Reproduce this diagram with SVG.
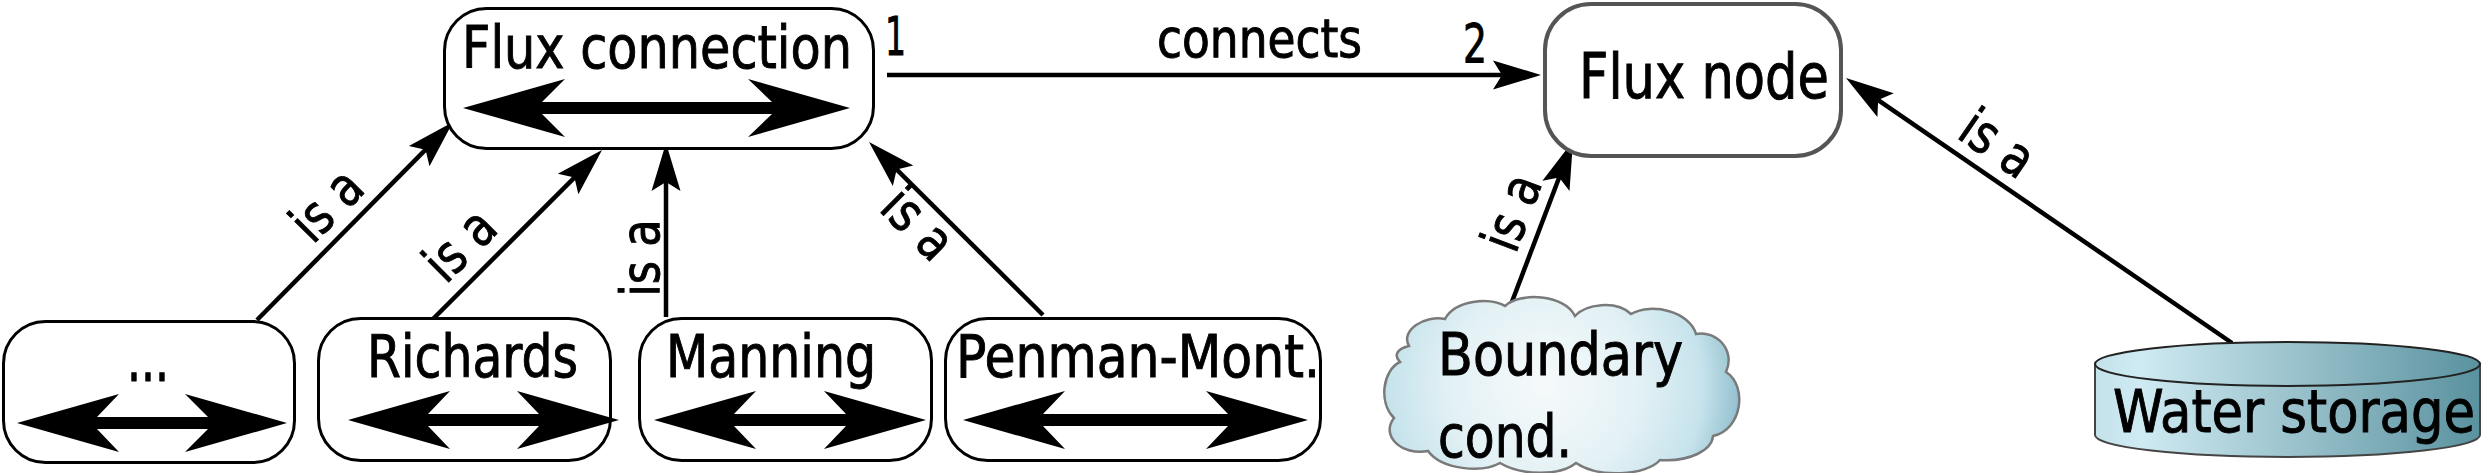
<svg xmlns="http://www.w3.org/2000/svg" width="2482" height="473" viewBox="0 0 2482 473">
<style>
.box{fill:#fff;stroke:#000;stroke-width:3}
.dbl{fill:#000;stroke:none}
.conn{stroke:#000;stroke-width:4.5;fill:none;marker-end:url(#ah)}
.t{font-family:"DejaVu Sans Condensed","DejaVu Sans","Liberation Sans",sans-serif;fill:#000;stroke:#000;stroke-width:0.9px}
.n{font-size:58px}
.lbl{font-size:54px}
</style>
<defs>
<marker id="ah" markerUnits="userSpaceOnUse" markerWidth="80" markerHeight="40" viewBox="-70 -20 80 40" refX="-20" refY="0" orient="auto">
<path d="M0,0 L-48,-14.5 L-39,0 L-48,14.5 Z" fill="#000"/>
</marker>
<radialGradient id="cloudG" cx="1545" cy="385" r="210" gradientUnits="userSpaceOnUse">
<stop offset="0" stop-color="#f6fafb"/>
<stop offset="0.45" stop-color="#e3f1f5"/>
<stop offset="0.75" stop-color="#c6e3ec"/>
<stop offset="1" stop-color="#7eb2c2"/>
</radialGradient>
<linearGradient id="cylG" x1="2095" y1="0" x2="2480" y2="0" gradientUnits="userSpaceOnUse">
<stop offset="0" stop-color="#c4e2ea"/>
<stop offset="0.12" stop-color="#cfeaf2"/>
<stop offset="1" stop-color="#5a929f"/>
</linearGradient>
</defs>

<g id="connectors">
<line class="conn" x1="257" y1="320" x2="438.9" y2="136.2"/>
<line class="conn" x1="432" y1="320" x2="587.9" y2="164.1"/>
<line class="conn" x1="666" y1="317" x2="666" y2="163"/>
<line class="conn" x1="1043" y1="315" x2="883.2" y2="156.1"/>
<line class="conn" x1="887" y1="75" x2="1521" y2="75"/>
<line class="conn" x1="1510" y1="307" x2="1565.9" y2="159.7"/>
<line class="conn" x1="2232" y1="343" x2="1862.5" y2="89.3"/>
<g class="t lbl">
<text transform="translate(330,208) rotate(-45.3)" x="-38.5" y="14" textLength="77" lengthAdjust="spacingAndGlyphs">is a</text>
<text transform="translate(463,248) rotate(-45)" x="-38.5" y="14" textLength="77" lengthAdjust="spacingAndGlyphs">is a</text>
<text transform="translate(645,258) rotate(-90)" x="-38.5" y="14" textLength="77" lengthAdjust="spacingAndGlyphs">is a</text>
<text transform="translate(915,227) rotate(44.8)" x="-38.5" y="14" textLength="77" lengthAdjust="spacingAndGlyphs">is a</text>
<text transform="translate(1516,214) rotate(-69.2)" x="-38.5" y="14" textLength="77" lengthAdjust="spacingAndGlyphs">is a</text>
<text transform="translate(1995,147) rotate(34.5)" x="-38.5" y="14" textLength="77" lengthAdjust="spacingAndGlyphs">is a</text>
</g>
<text class="t" x="1157" y="57" font-size="53" textLength="205" lengthAdjust="spacingAndGlyphs">connects</text>
<text class="t" x="885" y="55" font-size="53" textLength="21" lengthAdjust="spacingAndGlyphs">1</text>
<text class="t" x="1463" y="62" font-size="53" textLength="24" lengthAdjust="spacingAndGlyphs">2</text>
</g>

<g id="flux-connection">
<rect class="box" x="444.5" y="8.5" width="429" height="140" rx="42" ry="42"/>
<path class="dbl" d="M463,108 L565,79 L542,102 L772,102 L748,79 L850,108 L748,137 L772,114 L542,114 L565,137 Z"/>
<text class="t" x="462" y="68" font-size="59" textLength="390" lengthAdjust="spacingAndGlyphs">Flux connection</text>
</g>

<g id="flux-node">
<rect x="1545" y="4" width="296" height="152" rx="46" ry="46" fill="#fff" stroke="#555" stroke-width="4"/>
<text class="t" x="1579" y="98" font-size="62" textLength="250" lengthAdjust="spacingAndGlyphs">Flux node</text>
</g>

<g id="generic">
<rect class="box" x="3.5" y="321.5" width="291" height="141" rx="42" ry="42"/>
<path class="dbl" d="M17,423 L119,394 L97,417 L208,417 L185,394 L287,423 L185,452 L208,429 L97,429 L119,452 Z"/>
<text class="t" x="127" y="381" font-size="66" textLength="42" lengthAdjust="spacingAndGlyphs">...</text>
</g>

<g id="richards">
<rect class="box" x="318.5" y="318.5" width="292" height="142" rx="42" ry="42"/>
<path class="dbl" d="M348,420 L450,391 L428,414 L539,414 L517,391 L619,420 L517,449 L539,426 L428,426 L450,449 Z"/>
<text class="t n" x="367" y="377" textLength="211" lengthAdjust="spacingAndGlyphs">Richards</text>
</g>

<g id="manning">
<rect class="box" x="639.5" y="318.5" width="292" height="142" rx="42" ry="42"/>
<path class="dbl" d="M654,420 L756,391 L734,414 L846,414 L824,391 L926,420 L824,449 L846,426 L734,426 L756,449 Z"/>
<text class="t n" x="666" y="377" textLength="210" lengthAdjust="spacingAndGlyphs">Manning</text>
</g>

<g id="penman">
<rect class="box" x="945.5" y="318.5" width="375" height="142" rx="42" ry="42"/>
<path class="dbl" d="M963,420 L1065,391 L1043,414 L1228,414 L1206,391 L1308,420 L1206,449 L1228,426 L1043,426 L1065,449 Z"/>
<text class="t n" x="956" y="377" textLength="364" lengthAdjust="spacingAndGlyphs">Penman-Mont.</text>
</g>

<g id="boundary">
<path d="M1400,362 C1383,370 1378,402 1394,418 C1380,436 1402,456 1428,451 C1442,470 1482,473 1500,463 C1522,476 1560,476 1576,463 C1598,478 1646,476 1660,460 C1690,462 1712,450 1713,436 C1742,430 1748,386 1726,372 C1736,350 1716,330 1696,334 C1690,312 1652,302 1631,314 C1616,300 1586,304 1575,316 C1564,294 1520,292 1505,306 C1490,297 1455,300 1445,319 C1425,315 1400,330 1409,346 C1396,349 1394,356 1400,362 Z" fill="url(#cloudG)" stroke="#7a7a7a" stroke-width="2.5"/>
<text class="t n" x="1438" y="375" textLength="245" lengthAdjust="spacingAndGlyphs">Boundary</text>
<text class="t n" x="1438" y="457" textLength="134" lengthAdjust="spacingAndGlyphs">cond.</text>
</g>

<g id="water-storage">
<path d="M2095,364 L2095,435 A192.5,22 0 0 0 2480,435 L2480,364 Z" fill="url(#cylG)" stroke="#444" stroke-width="2"/>
<ellipse cx="2287.5" cy="364" rx="192.5" ry="22" fill="url(#cylG)" stroke="#222" stroke-width="2"/>
<text class="t n" x="2113" y="432" textLength="362" lengthAdjust="spacingAndGlyphs">Water storage</text>
</g>
</svg>
